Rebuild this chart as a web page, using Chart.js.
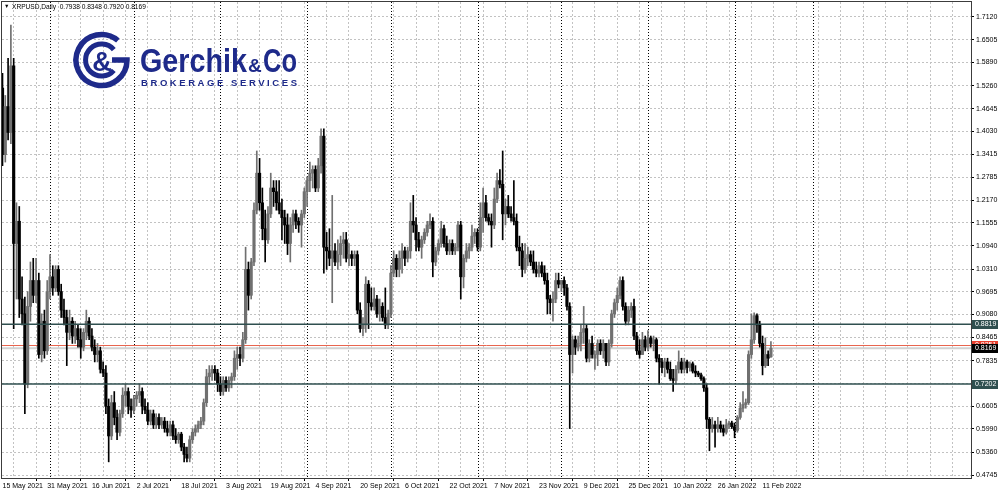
<!DOCTYPE html>
<html><head><meta charset="utf-8">
<script src="https://cdn.jsdelivr.net/npm/chart.js@4.4.1/dist/chart.umd.min.js"></script>
<style>
html,body{margin:0;padding:0;background:#fff;overflow:hidden;}
#wrap{position:relative;width:1000px;height:492px;background:#fff;}
#c{position:absolute;left:0;top:0;}
#logo{position:absolute;left:0;top:0;pointer-events:none;}
#title{position:absolute;left:4px;top:2px;font-family:"Liberation Sans",Arial,sans-serif;font-size:6.6px;line-height:9px;color:#000;white-space:pre;}
#title .tri{font-size:5.5px;display:inline-block;width:8px;vertical-align:top;}
</style></head><body>
<div id="wrap">
<canvas id="c" width="1000" height="492"></canvas>
<svg id="logo" width="320" height="100" viewBox="0 0 320 100">
 <g fill="none" stroke="#1e2a8a">
  <path d="M117.9,40.5 A25.5,25.5 0 1 0 127,60 H112" stroke-width="5.5"/>
  <path d="M113.8,49.7 A16,16 0 1 0 113.8,70.3" stroke-width="5"/>
 </g>
 <text x="102" y="71" text-anchor="middle" font-family="Liberation Sans, Arial, sans-serif" font-weight="bold" font-size="27" fill="#1e2a8a">&amp;</text>
 <text x="140" y="72" font-family="Liberation Sans, Arial, sans-serif" font-weight="bold" font-size="34" fill="#1e2a8a" textLength="107" lengthAdjust="spacingAndGlyphs">Gerchik</text>
 <text x="248" y="72" font-family="Liberation Sans, Arial, sans-serif" font-weight="bold" font-size="19" fill="#1e2a8a">&amp;</text>
 <text x="263" y="72" font-family="Liberation Sans, Arial, sans-serif" font-weight="bold" font-size="34" fill="#1e2a8a" textLength="34" lengthAdjust="spacingAndGlyphs">Co</text>
 <text x="141" y="86" font-family="Liberation Sans, Arial, sans-serif" font-weight="bold" font-size="9.5" fill="#1e2a8a" textLength="156" lengthAdjust="spacing">BROKERAGE SERVICES</text>
</svg>
<div id="title"><span class="tri">▼</span><span id="ttxt"></span></div>
</div>
<script>
const symbol = 'XRPUSD';
const period = 'Daily';

// day index 0 = 15 May 2021, one candle per calendar day
const dateLabels = ['15 May 2021','31 May 2021','16 Jun 2021','2 Jul 2021','18 Jul 2021','3 Aug 2021','19 Aug 2021','4 Sep 2021','20 Sep 2021','6 Oct 2021','22 Oct 2021','7 Nov 2021','23 Nov 2021','9 Dec 2021','25 Dec 2021','10 Jan 2022','26 Jan 2022','11 Feb 2022'];
const labelDays = [0,16,32,48,64,80,96,112,128,144,160,176,192,208,224,240,256,272];
const gridDays = [0,8,16,24,32,40,48,56,64,72,80,88,96,104,112,120,128,136,144,152,160,168,176,184,192,200,208,216,224,232,240,248,256,264,272,280,288,296,304,312,320,328,336,344];
const monthStartDays = [17,47,78,109,139,170,200,231,262,290];
const yTicks = [1.7120,1.6505,1.5890,1.5260,1.4645,1.4030,1.3415,1.2785,1.2170,1.1555,1.0940,1.0310,0.9695,0.9080,0.8465,0.7835,0.7220,0.6605,0.5990,0.5360,0.4745];
const levelPrices = [0.8819, 0.7202];
const askPrice = 0.8251;
const bidPrice = 0.8169;

const opens = [
1.52,1.34,1.47,1.40,1.58,1.10,1.16,0.95,0.91,0.72,
0.93,1.00,0.96,1.00,0.80,0.89,0.81,0.97,1.01,0.98,
1.03,0.97,0.92,0.90,0.86,0.89,0.85,0.87,0.84,0.82,
0.86,0.89,0.85,0.82,0.80,0.81,0.76,0.75,0.66,0.58,
0.67,0.63,0.59,0.64,0.69,0.70,0.66,0.65,0.68,0.69,
0.70,0.66,0.65,0.62,0.64,0.61,0.63,0.61,0.62,0.60,
0.59,0.61,0.58,0.57,0.585,0.55,0.53,0.52,0.57,0.59,
0.60,0.61,0.62,0.67,0.74,0.75,0.76,0.75,0.72,0.70,
0.73,0.71,0.73,0.74,0.79,0.80,0.79,0.84,1.03,0.96,
1.05,1.19,1.29,1.21,1.14,1.11,1.18,1.25,1.24,1.21,
1.19,1.17,1.15,1.10,1.15,1.18,1.16,1.15,1.18,1.24,
1.27,1.29,1.30,1.25,1.31,1.39,1.09,1.08,1.06,1.08,
1.05,1.07,1.10,1.11,1.06,1.07,1.06,1.07,0.92,0.87,
0.88,0.99,0.94,0.93,0.95,0.91,0.93,0.90,0.88,0.91,
1.02,1.06,1.03,1.06,1.08,1.06,1.08,1.16,1.15,1.11,
1.09,1.11,1.13,1.15,1.16,1.05,1.08,1.10,1.14,1.10,
1.08,1.10,1.08,1.09,1.15,1.01,1.06,1.08,1.09,1.12,
1.13,1.09,1.17,1.21,1.17,1.16,1.15,1.22,1.27,1.26,
1.18,1.20,1.18,1.17,1.16,1.09,1.08,1.03,1.06,1.07,
1.05,1.03,1.02,1.04,1.02,1.00,0.95,0.94,0.95,1.00,
0.99,1.00,0.98,0.93,0.80,0.84,0.82,0.83,0.86,0.87,
0.79,0.83,0.79,0.80,0.83,0.81,0.83,0.78,0.83,0.91,
0.94,0.96,1.00,0.93,0.89,0.92,0.93,0.85,0.81,0.80,
0.84,0.82,0.845,0.83,0.84,0.79,0.78,0.765,0.78,0.76,
0.735,0.73,0.76,0.78,0.76,0.78,0.765,0.775,0.755,0.75,
0.745,0.735,0.71,0.625,0.60,0.61,0.60,0.61,0.60,0.59,
0.61,0.615,0.605,0.595,0.63,0.655,0.665,0.67,0.80,0.84,
0.905,0.88,0.83,0.77,0.80,0.7938];
const highs = [
1.56,1.50,1.60,1.69,1.60,1.21,1.20,1.01,0.955,0.97,
1.05,1.06,1.06,1.02,0.91,0.92,1.00,1.07,1.04,1.04,
1.04,0.99,0.95,0.92,0.92,0.90,0.89,0.88,0.87,0.87,
0.92,0.90,0.87,0.84,0.83,0.82,0.78,0.77,0.68,0.69,
0.70,0.65,0.65,0.71,0.72,0.71,0.68,0.69,0.70,0.72,
0.71,0.68,0.67,0.65,0.65,0.64,0.64,0.63,0.63,0.62,
0.62,0.62,0.60,0.59,0.59,0.56,0.55,0.58,0.60,0.61,
0.62,0.63,0.68,0.76,0.77,0.77,0.77,0.76,0.74,0.74,
0.74,0.74,0.75,0.81,0.82,0.82,0.86,1.09,1.05,1.06,
1.21,1.35,1.33,1.25,1.19,1.20,1.29,1.27,1.27,1.27,
1.22,1.19,1.18,1.17,1.19,1.19,1.17,1.19,1.25,1.28,
1.32,1.31,1.31,1.33,1.41,1.41,1.13,1.14,1.23,1.10,
1.11,1.12,1.13,1.13,1.10,1.08,1.08,1.08,0.94,0.90,
1.01,1.00,0.98,0.98,0.96,0.95,0.94,0.98,0.92,1.04,
1.08,1.07,1.08,1.10,1.09,1.09,1.21,1.23,1.17,1.13,
1.12,1.14,1.16,1.18,1.17,1.09,1.11,1.16,1.15,1.12,
1.11,1.11,1.10,1.16,1.16,1.07,1.10,1.10,1.15,1.14,
1.14,1.21,1.25,1.23,1.18,1.18,1.25,1.29,1.30,1.35,
1.22,1.23,1.20,1.27,1.18,1.12,1.10,1.10,1.09,1.08,
1.08,1.05,1.05,1.05,1.04,1.02,0.96,0.97,1.02,1.02,
1.00,1.01,0.99,0.94,0.85,0.85,0.85,0.88,0.93,0.88,
0.84,0.85,0.81,0.84,0.84,0.84,0.83,0.84,0.92,0.95,
0.98,1.01,1.01,0.94,0.93,0.94,0.95,0.86,0.84,0.86,
0.85,0.865,0.85,0.85,0.845,0.80,0.79,0.79,0.79,0.78,
0.76,0.77,0.81,0.79,0.79,0.785,0.78,0.78,0.77,0.755,
0.75,0.74,0.72,0.63,0.63,0.62,0.63,0.62,0.61,0.625,
0.62,0.62,0.615,0.635,0.67,0.70,0.68,0.81,0.91,0.913,
0.91,0.89,0.85,0.845,0.81,0.8348];
const lows = [
1.31,1.32,1.38,1.37,0.87,0.95,0.90,0.88,0.64,0.71,
0.89,0.94,0.94,0.79,0.78,0.79,0.80,0.95,0.96,0.97,
0.96,0.90,0.88,0.77,0.84,0.83,0.83,0.82,0.79,0.81,
0.84,0.84,0.81,0.78,0.78,0.75,0.74,0.64,0.51,0.57,
0.61,0.57,0.58,0.63,0.66,0.64,0.63,0.64,0.66,0.67,
0.64,0.64,0.61,0.61,0.60,0.60,0.60,0.60,0.59,0.58,
0.58,0.57,0.56,0.56,0.54,0.51,0.51,0.51,0.56,0.58,
0.59,0.60,0.61,0.66,0.72,0.73,0.73,0.70,0.69,0.69,
0.70,0.70,0.71,0.73,0.76,0.77,0.78,0.83,0.92,0.95,
1.04,1.18,1.19,1.11,1.05,1.10,1.17,1.20,1.19,1.18,
1.11,1.10,1.07,1.05,1.13,1.14,1.13,1.09,1.17,1.20,
1.24,1.25,1.24,1.24,1.29,1.02,1.03,1.04,0.94,1.04,
1.03,1.04,1.06,1.05,1.04,1.04,1.04,0.91,0.86,0.85,
0.86,0.87,0.92,0.92,0.90,0.89,0.89,0.87,0.87,0.90,
1.01,1.01,1.01,1.02,1.04,1.05,1.06,1.13,1.08,1.08,
1.06,1.10,1.12,1.14,1.01,1.04,1.07,1.09,1.09,1.07,
1.07,1.07,1.07,1.08,0.95,0.98,1.05,1.06,1.08,1.10,
1.08,1.08,1.13,1.16,1.15,1.09,1.14,1.21,1.25,1.11,
1.15,1.17,1.16,1.15,1.08,1.04,1.01,1.02,1.04,1.04,
1.02,1.01,1.01,1.01,0.99,0.91,0.91,0.89,0.94,0.98,
0.97,0.96,0.92,0.60,0.75,0.80,0.81,0.81,0.83,0.78,
0.78,0.79,0.76,0.77,0.80,0.79,0.77,0.77,0.82,0.90,
0.92,0.95,0.92,0.88,0.88,0.90,0.84,0.80,0.79,0.80,
0.81,0.81,0.82,0.81,0.78,0.72,0.75,0.74,0.75,0.73,
0.70,0.72,0.75,0.75,0.75,0.75,0.755,0.75,0.74,0.74,
0.73,0.70,0.60,0.54,0.59,0.55,0.59,0.59,0.58,0.585,
0.60,0.60,0.575,0.59,0.625,0.645,0.655,0.665,0.79,0.83,
0.86,0.82,0.745,0.765,0.77,0.7920];
const closes = [
1.34,1.47,1.40,1.58,1.10,1.16,0.95,0.91,0.72,0.93,
1.00,0.96,1.00,0.80,0.89,0.81,0.97,1.01,0.98,1.03,
0.97,0.92,0.90,0.86,0.89,0.85,0.87,0.84,0.82,0.86,
0.89,0.85,0.82,0.80,0.81,0.76,0.75,0.66,0.58,0.67,
0.63,0.59,0.64,0.69,0.70,0.66,0.65,0.68,0.69,0.70,
0.66,0.65,0.62,0.64,0.61,0.63,0.61,0.62,0.60,0.59,
0.61,0.58,0.57,0.585,0.55,0.53,0.52,0.57,0.59,0.60,
0.61,0.62,0.67,0.74,0.75,0.76,0.75,0.72,0.70,0.73,
0.71,0.73,0.74,0.79,0.80,0.79,0.84,1.03,0.96,1.05,
1.19,1.29,1.21,1.14,1.11,1.18,1.25,1.24,1.21,1.19,
1.17,1.15,1.10,1.15,1.18,1.16,1.15,1.18,1.24,1.27,
1.29,1.30,1.25,1.31,1.39,1.09,1.08,1.06,1.08,1.05,
1.07,1.10,1.11,1.06,1.07,1.06,1.07,0.92,0.87,0.88,
0.99,0.94,0.93,0.95,0.91,0.93,0.90,0.88,0.91,1.02,
1.06,1.03,1.06,1.08,1.06,1.08,1.16,1.15,1.11,1.09,
1.11,1.13,1.15,1.16,1.05,1.08,1.10,1.14,1.10,1.08,
1.10,1.08,1.09,1.15,1.01,1.06,1.08,1.09,1.12,1.13,
1.09,1.17,1.21,1.17,1.16,1.15,1.22,1.27,1.26,1.18,
1.20,1.18,1.17,1.16,1.09,1.08,1.03,1.06,1.07,1.05,
1.03,1.02,1.04,1.02,1.00,0.95,0.94,0.95,1.00,0.99,
1.00,0.98,0.93,0.80,0.84,0.82,0.83,0.86,0.87,0.79,
0.83,0.80,0.80,0.83,0.81,0.83,0.78,0.83,0.91,0.94,
0.96,1.00,0.93,0.89,0.92,0.93,0.85,0.81,0.80,0.84,
0.82,0.845,0.83,0.84,0.79,0.78,0.765,0.78,0.76,0.735,
0.73,0.76,0.78,0.76,0.78,0.765,0.775,0.755,0.75,0.745,
0.735,0.71,0.625,0.60,0.61,0.60,0.61,0.60,0.59,0.61,
0.615,0.605,0.595,0.63,0.655,0.665,0.67,0.80,0.84,0.905,
0.88,0.83,0.77,0.80,0.79,0.8169];

const last = closes.length - 1;
document.getElementById('ttxt').textContent = symbol + ',' + period + '  ' +
  [opens[last], highs[last], lows[last], closes[last]].map(v => v.toFixed(4)).join(' ');

const UP = '#707070', DOWN = '#000000';
const candleColors = closes.map((c, i) => c >= opens[i] ? UP : DOWN);
const FONT = "'Liberation Sans', Arial, sans-serif";
const GRID = '#c2c2c2';

const overlay = {
  id: 'overlay',
  beforeDatasetsDraw(chart) {
    const {ctx, chartArea: a, scales: {x, y}} = chart;
    ctx.save();
    ctx.beginPath(); ctx.rect(a.left, a.top, a.right - a.left, a.bottom - a.top); ctx.clip();
    ctx.strokeStyle = '#000'; ctx.lineWidth = 1; ctx.setLineDash([1, 2]);
    monthStartDays.forEach(d => {
      const px = Math.round(x.getPixelForValue(d)) + 0.5;
      ctx.beginPath(); ctx.moveTo(px, a.top); ctx.lineTo(px, a.bottom); ctx.stroke();
    });
    ctx.setLineDash([]);
    let py = y.getPixelForValue(bidPrice);
    ctx.strokeStyle = '#d2d2d2'; ctx.lineWidth = 2;
    ctx.beginPath(); ctx.moveTo(a.left, py); ctx.lineTo(a.right, py); ctx.stroke();
    py = Math.round(y.getPixelForValue(askPrice)) + 0.5;
    ctx.strokeStyle = '#e8654f'; ctx.lineWidth = 1;
    ctx.beginPath(); ctx.moveTo(a.left, py); ctx.lineTo(a.right, py); ctx.stroke();
    ctx.restore();
  },
  afterDatasetsDraw(chart) {
    const {ctx, chartArea: a, scales: {y}} = chart;
    ctx.save();
    ctx.strokeStyle = '#2f4f4f'; ctx.lineWidth = 1.5;
    levelPrices.forEach(v => {
      const py = y.getPixelForValue(v);
      ctx.beginPath(); ctx.moveTo(a.left, py); ctx.lineTo(a.right, py); ctx.stroke();
    });
    ctx.restore();
  },
  afterDraw(chart) {
    const {ctx, chartArea: a, scales: {y}} = chart;
    ctx.save();
    ctx.strokeStyle = '#3c3c3c'; ctx.lineWidth = 1;
    ctx.strokeRect(a.left - 0.5, a.top - 0.5, a.right - a.left + 1, a.bottom - a.top + 1);
    const boxes = [
      {v: levelPrices[0], bg: '#2f4f4f'},
      {v: levelPrices[1], bg: '#2f4f4f'},
      {v: askPrice, bg: '#e8402e'},
      {v: bidPrice, bg: '#000000'}
    ];
    ctx.font = '7px ' + FONT;
    ctx.textBaseline = 'middle';
    ctx.textAlign = 'left';
    boxes.forEach(b => {
      const py = Math.round(y.getPixelForValue(b.v));
      ctx.fillStyle = b.bg;
      ctx.fillRect(a.right + 1, py - 4, 26, 9);
      ctx.fillStyle = '#fff';
      ctx.fillText(b.v.toFixed(4), a.right + 4, py + 0.5);
    });
    ctx.restore();
  }
};

new Chart(document.getElementById('c'), {
  type: 'bar',
  data: {
    datasets: [
      {label: 'wick', data: lows.map((l, i) => ({x: i, y: [l, highs[i]]})), backgroundColor: candleColors, barThickness: 1, grouped: false, order: 2},
      {label: 'body', data: opens.map((o, i) => ({x: i, y: [o, closes[i]]})), backgroundColor: candleColors, barThickness: 2.5, minBarLength: 1, grouped: false, order: 1}
    ]
  },
  options: {
    responsive: false, animation: false, devicePixelRatio: 1, events: [],
    layout: {padding: {left: 2, top: 2, right: 0, bottom: 0}},
    plugins: {legend: {display: false}, tooltip: {enabled: false}},
    scales: {
      x: {
        type: 'linear', min: -0.18, max: 346.6, offset: false,
        afterBuildTicks: s => { s.ticks = gridDays.map(v => ({value: v})); },
        afterFit: s => { s.height = 14; s.paddingLeft = 0; s.paddingRight = 0; },
        ticks: {autoSkip: false, maxRotation: 0, minRotation: 0, align: 'start', padding: 1, color: '#000',
          font: {family: FONT, size: 7},
          callback: v => { const k = labelDays.indexOf(v); return k >= 0 ? dateLabels[k] : ''; }},
        grid: {color: GRID, lineWidth: 1, drawTicks: true, tickLength: 3,
          tickColor: c => (c.tick && labelDays.includes(c.tick.value)) ? '#000' : 'rgba(0,0,0,0)', tickBorderDash: []},
        border: {display: false, dash: [2, 2]}
      },
      y: {
        position: 'right', min: 0.4664, max: 1.7525,
        afterBuildTicks: s => { s.ticks = yTicks.map(v => ({value: v})); },
        afterFit: s => { s.width = 29; s.paddingTop = 0; s.paddingBottom = 0; },
        ticks: {padding: 2, color: '#000', font: {family: FONT, size: 7}, callback: v => v.toFixed(4)},
        grid: {color: GRID, lineWidth: 1, tickLength: 3, tickColor: '#000', tickBorderDash: []},
        border: {display: false, dash: [2, 2]}
      }
    }
  },
  plugins: [overlay]
});
</script>
</body></html>
